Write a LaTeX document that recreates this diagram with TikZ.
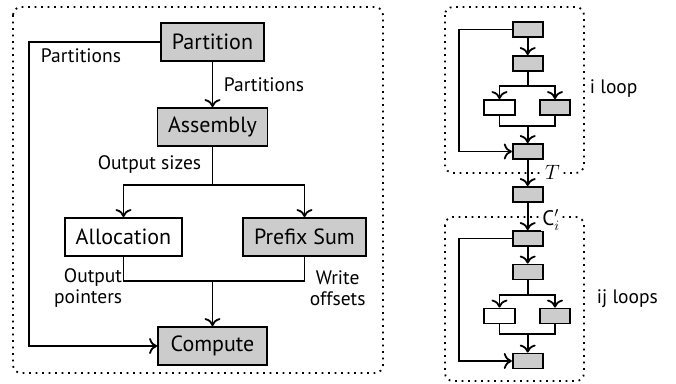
\documentclass[tikz,border=0pt]{standalone}
\usepackage{fontspec}
\setmainfont{PT Sans}
\usetikzlibrary{arrows.meta}
\definecolor{boxgrey}{RGB}{204,204,204}
\tikzset{
  every picture/.style={line width=1.8pt},
  bigbox/.style={draw, line width=1.8pt, inner sep=0pt, minimum height=38pt, font=\fontsize{22}{24}\selectfont},
  greybox/.style={bigbox, fill=boxgrey},
  whitebox/.style={bigbox, fill=white},
  smallbox/.style={draw, line width=1.8pt, inner sep=0pt, minimum width=30pt, minimum height=15pt},
  sgrey/.style={smallbox, fill=boxgrey},
  swhite/.style={smallbox, fill=white},
  arr/.style={-{To[length=8pt,width=16pt]}},
  lbl/.style={inner sep=0pt, font=\fontsize{19.5}{21}\selectfont},
  dotbox/.style={line width=1.8pt, dash pattern=on 1.8pt off 4.7pt, rounded corners=8pt},
}
\begin{document}
\begin{tikzpicture}[x=1pt,y=-1pt]
\useasboundingbox (0,0) rectangle (676,383);
% left panel
\draw[dotbox] (13,7) rectangle (383,373);
\node[greybox, minimum width=103pt] (part) at (212.5,42) {Partition};
\node[greybox, minimum width=110pt] (asm) at (212.5,127) {Assembly};
\node[whitebox, minimum width=117pt] (alloc) at (123.5,237) {Allocation};
\node[greybox, minimum width=123pt] (pre) at (304.5,237) {Prefix Sum};
\node[greybox, minimum width=109pt] (comp) at (212.5,346) {Compute};
\coordinate (lx) at (29,0);
\coordinate (sp) at (212.5,185);
\coordinate (mg) at (212.5,281);
\draw[arr] (part.west) -- (part.west -| lx) |- (comp.west);
\draw[arr] (part) -- (asm);
\draw (asm) -- (sp);
\draw[arr] (sp) -| (alloc);
\draw[arr] (sp) -| (pre);
\draw (alloc) |- (mg) -| (pre);
\draw[arr] (mg) -- (comp);
\node[lbl, anchor=west] (l1) at (40,56) {Partitions};
\node[lbl, anchor=west] (l2) at (223,85) {Partitions};
\node[lbl, anchor=east] (l3) at (202,165) {Output sizes};
\node[lbl, anchor=east, align=right] (l4) at (123,288) {Output\\pointers};
\node[lbl, anchor=west, align=center] (l5) at (309,288) {Write\\offsets};
% right panel
\draw[dotbox] (445,7) rectangle (584,173);
\draw[dotbox] (445,217) rectangle (584,381);
\node[sgrey] (a1) at (527.7,29.5) {};
\node[sgrey] (a2) at (527.7,63.5) {};
\node[swhite, minimum width=31pt] (a3) at (499.5,107.5) {};
\node[sgrey] (a4) at (555,107.5) {};
\node[sgrey] (a5) at (527.7,151.5) {};
\node[sgrey] (m) at (527.7,194.5) {};
\node[sgrey] (c1) at (527.7,238.5) {};
\node[sgrey] (c2) at (527.7,272) {};
\node[swhite, minimum width=31pt] (c3) at (499.5,316) {};
\node[sgrey] (c4) at (555,316) {};
\node[sgrey] (c5) at (527.7,361) {};
\coordinate (rx) at (459,0);
\coordinate (asp) at (527.7,86);
\coordinate (amg) at (527.7,126);
\coordinate (csp) at (527.7,295);
\coordinate (cmg) at (527.7,334);
\draw[arr] (a1.west) -- (a1.west -| rx) |- (a5.west);
\draw[arr] (a1) -- (a2);
\draw (a2) -- (asp);
\draw[arr] (asp) -| (a3);
\draw[arr] (asp) -| (a4);
\draw (a3) |- (amg) -| (a4);
\draw[arr] (amg) -- (a5);
\draw[arr] (a5) -- (m);
\draw[arr] (m) -- (c1);
\draw[arr] (c1.west) -- (c1.west -| rx) |- (c5.west);
\draw[arr] (c1) -- (c2);
\draw (c2) -- (csp);
\draw[arr] (csp) -| (c3);
\draw[arr] (csp) -| (c4);
\draw (c3) |- (cmg) -| (c4);
\draw[arr] (cmg) -- (c5);
\node[lbl, anchor=west] (il) at (589,89) {i loop};
\node[lbl, anchor=west] (ijl) at (596,299) {ij loops};
\node[inner sep=1pt, fill=white, font=\fontsize{21}{23}\selectfont] (tl) at (552.5,172) {$T$};
\node[inner sep=1pt, fill=white, font=\fontsize{21}{23}\selectfont] (cl) at (551,220) {C$'_i$};
\end{tikzpicture}
\end{document}
